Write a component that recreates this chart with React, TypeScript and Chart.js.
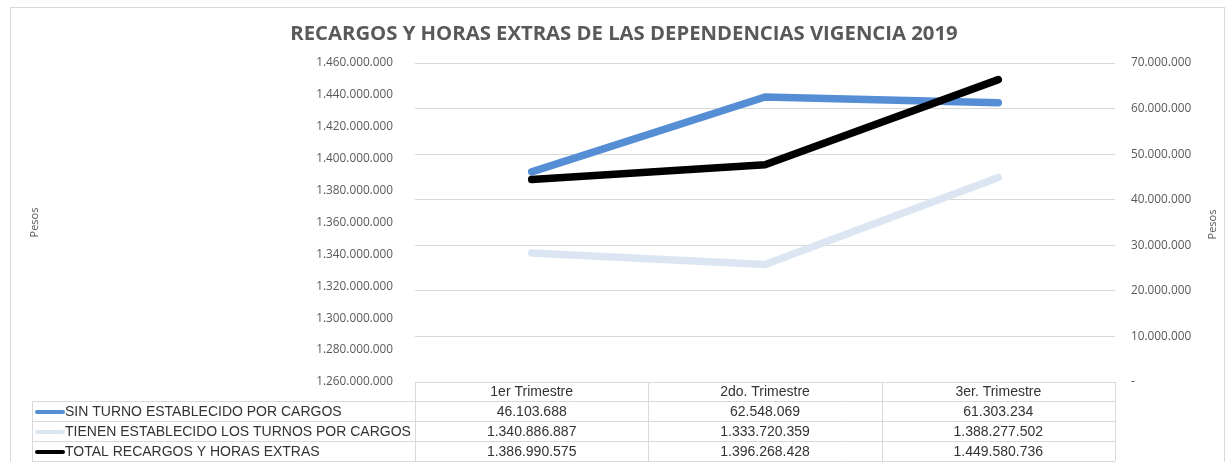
import React, { useEffect, useRef } from 'react';
import { Chart, registerables } from 'chart.js';

Chart.register(...registerables);

const chartTitle = 'RECARGOS Y HORAS EXTRAS DE LAS DEPENDENCIAS VIGENCIA 2019';
const axisTitle = 'Pesos';
const categories = ['1er Trimestre', '2do. Trimestre', '3er. Trimestre'];
const seriesNames = [
  'SIN TURNO ESTABLECIDO POR CARGOS',
  'TIENEN ESTABLECIDO LOS TURNOS POR CARGOS',
  'TOTAL RECARGOS Y HORAS EXTRAS',
];
const sinTurno = [46103688, 62548069, 61303234];
const tienenTurnos = [1340886887, 1333720359, 1388277502];
const totalRecargos = [1386990575, 1396268428, 1449580736];
const leftAxisRange = [1260000000, 1460000000, 20000000];
const rightAxisRange = [0, 70000000, 10000000];

const seriesColors = ['#558ED5', '#DCE6F2', '#000000'];
const seriesValues = [sinTurno, tienenTurnos, totalRecargos];

function fmt(v: number): string {
  if (v === 0) return '-';
  return Math.round(v)
    .toString()
    .replace(/\B(?=(\d{3})+(?!\d))/g, '.');
}

const GRID = '#D9D9D9';
const TEXT = '#595959';
const TABLE_TEXT = '#333333';

const chromePlugin = {
  id: 'chrome',
  beforeDraw(chart: any) {
    const ctx = chart.ctx as CanvasRenderingContext2D;
    const ca = chart.chartArea;
    ctx.save();
    ctx.fillStyle = '#ffffff';
    ctx.fillRect(0, 0, chart.width, chart.height);
    ctx.strokeStyle = GRID;
    ctx.lineWidth = 1;
    ctx.strokeRect(10.5, 7.5, 1214, 520);

    // title
    ctx.fillStyle = TEXT;
    ctx.font = 'bold 20.3px "Open Sans", sans-serif';
    ctx.textAlign = 'center';
    ctx.textBaseline = 'middle';
    ctx.fillText(chartTitle, 624, 34);

    // axis titles
    const midY = (ca.top + ca.bottom) / 2;
    ctx.font = '11px "Open Sans", sans-serif';
    ctx.save();
    ctx.translate(35, midY);
    ctx.rotate(-Math.PI / 2);
    ctx.fillText(axisTitle, 0, 0);
    ctx.restore();
    ctx.save();
    ctx.translate(1213, midY + 2);
    ctx.rotate(-Math.PI / 2);
    ctx.fillText(axisTitle, 0, 0);
    ctx.restore();
    ctx.restore();
  },
  afterDraw(chart: any) {
    const ctx = chart.ctx as CanvasRenderingContext2D;
    const ca = chart.chartArea;
    const xs = chart.scales.x;
    const n = categories.length;
    const bw = ca.width / n;
    const tableLeft = 32;
    const top = Math.round(ca.bottom);
    const rowLines = [top, top + 19, top + 39, top + 59, top + 79];

    ctx.save();
    ctx.strokeStyle = GRID;
    ctx.lineWidth = 1;
    ctx.beginPath();
    ctx.moveTo(ca.left, rowLines[0] + 0.5);
    ctx.lineTo(ca.right, rowLines[0] + 0.5);
    for (let r = 1; r < rowLines.length; r++) {
      ctx.moveTo(tableLeft, rowLines[r] + 0.5);
      ctx.lineTo(ca.right, rowLines[r] + 0.5);
    }
    const bottom = rowLines[rowLines.length - 1];
    for (let i = 0; i <= n; i++) {
      const x = Math.round(ca.left + i * bw) + 0.5;
      ctx.moveTo(x, rowLines[0]);
      ctx.lineTo(x, bottom);
    }
    ctx.moveTo(tableLeft + 0.5, rowLines[1]);
    ctx.lineTo(tableLeft + 0.5, bottom);
    ctx.stroke();

    ctx.fillStyle = TABLE_TEXT;
    ctx.font = '14px "Liberation Sans", Arial, sans-serif';
    ctx.textAlign = 'center';
    ctx.textBaseline = 'middle';
    categories.forEach((c, i) => {
      const x = xs.getPixelForValue(i);
      ctx.fillText(c, x, (rowLines[0] + rowLines[1]) / 2 + 1);
    });
    seriesNames.forEach((name, r) => {
      const yc = (rowLines[r + 1] + rowLines[r + 2]) / 2 + 1;
      ctx.save();
      ctx.strokeStyle = seriesColors[r];
      ctx.lineWidth = 4;
      ctx.lineCap = 'round';
      ctx.beginPath();
      ctx.moveTo(37, yc);
      ctx.lineTo(63, yc);
      ctx.stroke();
      ctx.restore();
      ctx.textAlign = 'left';
      ctx.fillText(name, 65, yc);
      ctx.textAlign = 'center';
      seriesValues[r].forEach((v, i) => {
        ctx.fillText(fmt(v), xs.getPixelForValue(i), yc);
      });
    });
    ctx.restore();
  },
};

export default function App() {
  const canvasRef = useRef<HTMLCanvasElement | null>(null);

  useEffect(() => {
    document.body.style.margin = '0';
    const canvas = canvasRef.current;
    if (!canvas) return;
    const tickFont = { family: '"Open Sans", sans-serif', size: 11.8 };
    const chart = new Chart(canvas, {
      type: 'line',
      data: {
        labels: categories,
        datasets: [
          {
            label: seriesNames[0],
            data: sinTurno,
            borderColor: seriesColors[0],
            backgroundColor: seriesColors[0],
            yAxisID: 'y1',
            order: 2,
          },
          {
            label: seriesNames[1],
            data: tienenTurnos,
            borderColor: seriesColors[1],
            backgroundColor: seriesColors[1],
            yAxisID: 'y',
            order: 3,
          },
          {
            label: seriesNames[2],
            data: totalRecargos,
            borderColor: seriesColors[2],
            backgroundColor: seriesColors[2],
            yAxisID: 'y',
            order: 1,
          },
        ],
      },
      options: {
        animation: false,
        responsive: false,
        devicePixelRatio: 1,
        layout: { padding: { top: 63, bottom: 80, left: 0, right: 0 } },
        elements: {
          line: {
            borderWidth: 7.5,
            tension: 0,
            borderCapStyle: 'round',
            borderJoinStyle: 'round',
          },
          point: { radius: 0, hoverRadius: 0 },
        },
        plugins: {
          legend: { display: false },
          title: { display: false },
          tooltip: { enabled: false },
        },
        scales: {
          x: {
            type: 'category',
            display: false,
            offset: true,
          },
          y: {
            position: 'left',
            min: leftAxisRange[0],
            max: leftAxisRange[1],
            grid: { display: false, drawTicks: false },
            border: { display: false },
            ticks: {
              stepSize: leftAxisRange[2],
              padding: 22,
              color: TEXT,
              font: tickFont,
              callback: (v: any) => fmt(Number(v)),
            },
            afterFit: (scale: any) => {
              scale.width = 415;
            },
          },
          y1: {
            position: 'right',
            min: rightAxisRange[0],
            max: rightAxisRange[1],
            grid: { display: true, color: GRID, lineWidth: 1, drawTicks: false },
            border: { display: false },
            ticks: {
              stepSize: rightAxisRange[2],
              padding: 16,
              color: TEXT,
              font: tickFont,
              callback: (v: any) => fmt(Number(v)),
            },
            afterFit: (scale: any) => {
              scale.width = 117;
            },
          },
        },
      },
      plugins: [chromePlugin],
    } as any);
    return () => {
      chart.destroy();
    };
  }, []);

  return (
    <div style={{ width: 1232, height: 462, position: 'relative', background: '#fff' }}>
      <canvas ref={canvasRef} width={1232} height={462} style={{ display: 'block' }} />
    </div>
  );
}
